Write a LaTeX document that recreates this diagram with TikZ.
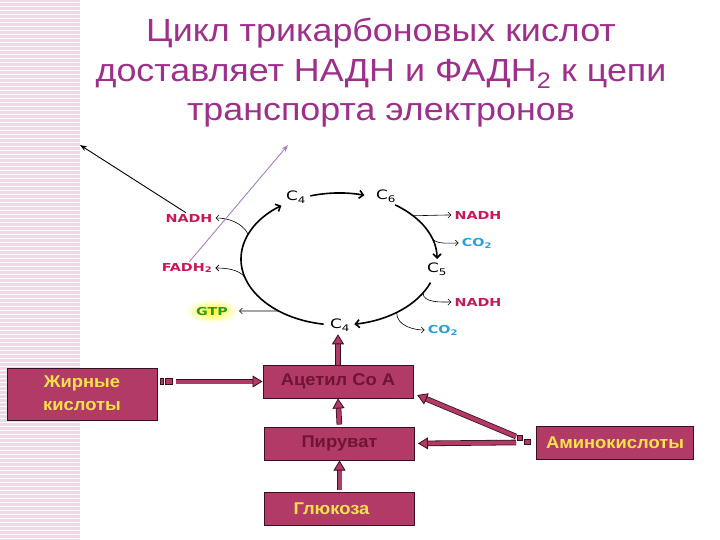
\documentclass[tikz,border=0pt]{standalone}
\usepackage{fontspec}
\setmainfont{Liberation Sans}
\newfontfamily\titlefont{Liberation Sans}[FakeStretch=1.12]
\newfontfamily\boxfont{Liberation Sans}[FakeStretch=1.08]
\newfontfamily\labfont{DejaVu Sans}[FakeStretch=1.3]
\usetikzlibrary{arrows.meta,backgrounds,calc,positioning}
\definecolor{KrebsTitle}{HTML}{9E2F8A}
\definecolor{KrebsBox}{HTML}{B23A66}
\definecolor{KrebsEdge}{HTML}{3A0F22}
\definecolor{KrebsDark}{HTML}{6E1535}
\definecolor{KrebsGold}{HTML}{FFE24A}
\definecolor{KrebsRed}{HTML}{C8175A}
\definecolor{KrebsCyan}{HTML}{2A9FDB}
\definecolor{KrebsGreen}{HTML}{2F9A1F}
\definecolor{KrebsLilac}{HTML}{A77DC2}
\definecolor{KrebsStripe}{HTML}{F1D8E5}

\begin{document}
\begin{tikzpicture}[
    x=1pt,
    y=-1pt,
    box/.style={draw=KrebsEdge, fill=KrebsBox, line width=1pt, minimum width=150pt, minimum height=33pt, align=center, inner sep=2pt, font=\boxfont\fontsize{17}{23}\selectfont\bfseries},
    darkbox/.style={box, text=KrebsDark},
    goldbox/.style={box, text=KrebsGold},
    carbon/.style={inner sep=1pt, font=\labfont\fontsize{13}{14}\selectfont},
    nadh/.style={inner sep=1pt, text=KrebsRed, font=\labfont\bfseries\fontsize{11}{12}\selectfont},
    co2/.style={nadh, text=KrebsCyan},
    gtpstyle/.style={nadh, text=KrebsGreen},
    cycle/.style={line width=1.6pt, -{Straight Barb[length=4pt,width=8pt]}},
    side/.style={line width=0.6pt, -{Straight Barb[length=3pt,width=6pt]}, shorten >=2pt},
    fat/.style={draw=KrebsBox, line width=4pt, shorten >=#1,
      -{Triangle[length=10pt,width=12pt,line width=0.8pt,color=KrebsEdge,fill=KrebsBox]},
      preaction={draw=KrebsEdge, line width=5.6pt, arrows=-, shorten >=#1+8pt}},
    fat/.default=0pt,
    stub/.style={draw=KrebsEdge, fill=KrebsBox, line width=0.6pt},
    chain/.style={line width=0.9pt, -{Stealth[length=7pt,width=5pt]}}
  ]
    \useasboundingbox (0,0) rectangle (720,540);
    % background stripe
    \fill[KrebsStripe] (0,0) rectangle (80,540);
    \foreach \y in {2,6,...,538}
      \draw[white, line width=0.8pt] (0,\y) -- (80,\y);

    \node[text=KrebsTitle, align=center, font=\titlefont\fontsize{32}{39.5}\selectfont] (title) at (381,73)
      {Цикл трикарбоновых кислот\\доставляет НАДН и ФАДН\textsubscript{2} к цепи\\транспорта электронов};

    % the cycle
    \coordinate (ctr) at (339,259);
    \node[carbon] (c4t) at (296,197) {C\textsubscript{4}};
    \node[carbon] (c6) at (386,196) {C\textsubscript{6}};
    \node[carbon] (c5) at (437,269) {C\textsubscript{5}};
    \node[carbon] (c4b) at (340,325) {C\textsubscript{4}};
    \draw[cycle] ($(ctr)+(-107:98 and 66)$) arc[start angle=-107, end angle=-75, x radius=98, y radius=66];
    \draw[cycle] ($(ctr)+(-55:98 and 66)$) arc[start angle=-55, end angle=0, x radius=98, y radius=66];
    \draw[cycle] ($(ctr)+(21:98 and 66)$) arc[start angle=21, end angle=81, x radius=98, y radius=66];
    \draw[cycle] ($(ctr)+(99:98 and 66)$) arc[start angle=99, end angle=234, x radius=98, y radius=66];

    \coordinate (pNadhL) at ($(ctr)+(-158:98 and 66)$);
    \coordinate (pFadh) at ($(ctr)+(164:98 and 66)$);
    \coordinate (pGtp) at ($(ctr)+(128:98 and 66)$);
    \coordinate (pNadhR) at ($(ctr)+(-41:98 and 66)$);
    \coordinate (pCoA) at ($(ctr)+(-18:98 and 66)$);
    \coordinate (pNadhD) at ($(ctr)+(31:98 and 66)$);
    \coordinate (pCoB) at ($(ctr)+(54:98 and 66)$);

    \node[nadh] (nadhL) at (189,218) {NADH};
    \node[nadh] (fadh) at (187,268) {FADH\textsubscript{2}};
    \begin{scope}[on background layer]
      \shade[inner color=yellow!85, outer color=white] (212,311) ellipse (27 and 12);
    \end{scope}
    \node[gtpstyle] (gtp) at (212,311) {GTP};
    \node[nadh] (nadhR) at (478,215) {NADH};
    \node[co2] (co2a) at (477,243) {CO\textsubscript{2}};
    \node[nadh] (nadhD) at (478,302) {NADH};
    \node[co2] (co2b) at (443,330) {CO\textsubscript{2}};

    \draw[side] (pNadhL) .. controls +(-6,-12) and +(14,0) .. (nadhL.east);
    \draw[side] (pFadh) .. controls +(-6,-8) and +(12,0) .. (fadh.east);
    \draw[side, shorten >=10pt] (pGtp) -- (gtp.east);
    \draw[side] (pNadhR) .. controls +(10,0) and +(-14,0) .. (nadhR.west);
    \draw[side] (pCoA) .. controls +(4,6) and +(-10,0) .. (co2a.west);
    \draw[side] (pNadhD) .. controls +(0,10) and +(-12,0) .. (nadhD.west);
    \draw[side] (pCoB) .. controls +(0,14) and +(-12,0) .. (co2b.west);

    % towards the electron transport chain
    \coordinate (etcL) at (80,145);
    \coordinate (etcR) at (288,145);
    \draw[chain] (nadhL.120) -- (etcL);
    \draw[chain, KrebsLilac] (fadh.70) -- (etcR);

    % feeding pathways
    \node[darkbox] (acetyl) at (338,381.5) {Ацетил Co A};
    \node[darkbox] (pyr) at (339.5,443.5) {Пируват};
    \node[goldbox, text width=140pt] (gluc) at (339.5,508.5) {\hspace*{-16pt}Глюкоза};
    \node[goldbox, minimum height=52pt] (fatty) at (82,394)
      {\raisebox{4pt}{\begin{tabular}{@{}c@{}}Жирные\\кислоты\end{tabular}}};
    \node[goldbox, minimum width=157pt] (amino) at (615,442.5) {Аминокислоты};

    \coordinate (fattyOut) at ($(fatty.east |- acetyl.west)+(18,0)$);
    \coordinate (aminoOut) at ($(amino.west)+(-20,0)$);
    \draw[stub] ($(fatty.east |- acetyl.west)+(3,-3)$) rectangle +(3,6);
    \draw[stub] ($(fatty.east |- acetyl.west)+(8,-3)$) rectangle +(7,6);
    \draw[stub] ($(amino.west)+(-19,-7)$) rectangle +(5,5);
    \draw[stub] ($(amino.west)+(-12,-3)$) rectangle +(6,5);
    \draw[fat] (fattyOut) -- (acetyl.west);
    \draw[fat, shorten <=2pt] (pyr.north) -- (acetyl.south);
    \draw[fat, shorten <=2pt] (gluc.north) -- (pyr.south);
    \draw[fat=2pt] (acetyl.north) -- (acetyl.north |- c4b.south);
    \draw[fat=4pt] ($(aminoOut)+(0,-6)$) -- ($(acetyl.east)+(0,12)$);
    \draw[fat=3pt] (aminoOut) -- (pyr.east);
\end{tikzpicture}
\end{document}
